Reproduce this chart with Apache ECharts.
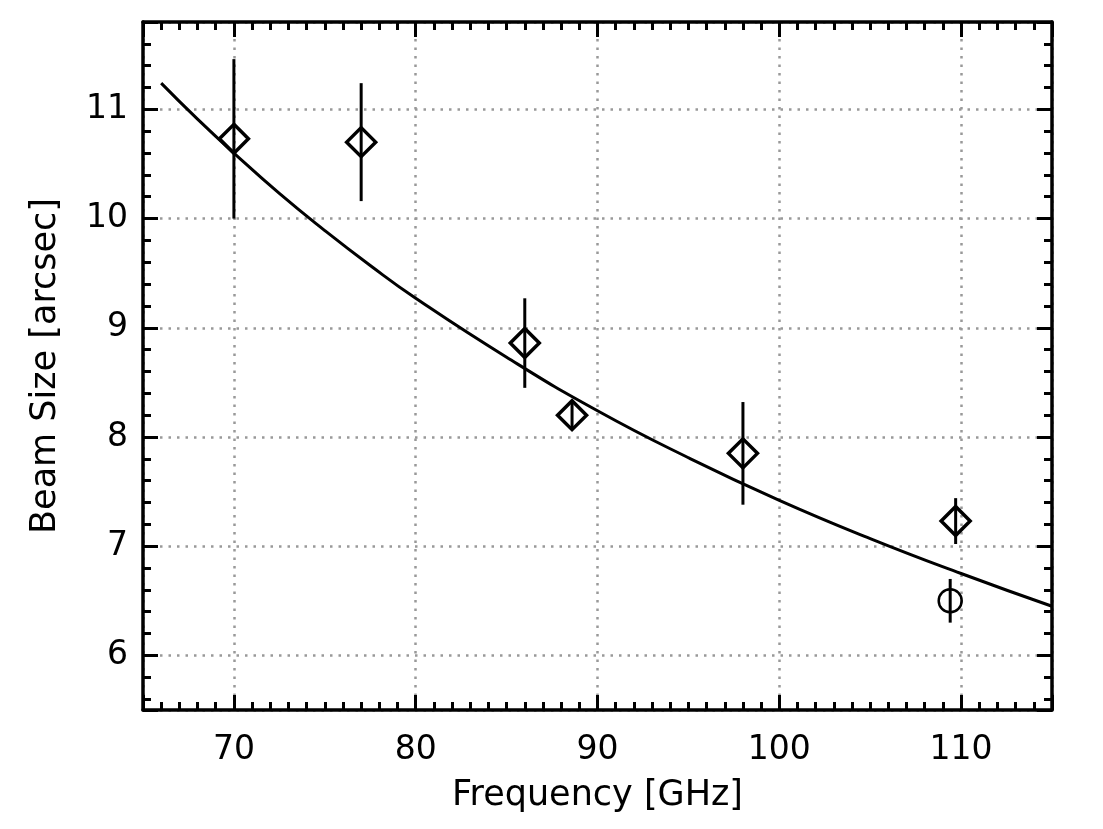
<!DOCTYPE html>
<html>
<head>
<meta charset="utf-8">
<title>Beam Size vs Frequency</title>
<script src="https://cdn.jsdelivr.net/npm/echarts@6/dist/echarts.min.js"></script>
<style>
  html, body { margin: 0; padding: 0; background: #fff; }
  #main { width: 1103px; height: 829px; }
</style>
</head>
<body>
<div id="main"></div>
<script>
// measured beam sizes (diamonds)
var freqs = [70, 77, 86, 88.6, 98, 109.7];
var beams = [10.73, 10.70, 8.86, 8.20, 7.85, 7.23];
var errs = [0.73, 0.54, 0.41, 0.12, 0.47, 0.21];

// single circle point
var circleFreq = [109.4];
var circleBeam = [6.50];
var circleErr = [0.20];

// fitted curve
var fitFreq = [66, 68, 70, 72.5, 75, 77.5, 80, 85, 90, 95, 100, 105, 110, 115];
var fitBeam = [11.24, 10.91, 10.60, 10.23, 9.89, 9.57, 9.27, 8.73, 8.24, 7.81, 7.42, 7.07, 6.75, 6.45];

var chart = echarts.init(document.getElementById('main'));

var font = 'DejaVu Sans';

function pairs(xs, ys) {
	return xs.map(function(x, i) { return [x, ys[i]]; });
}
function errData(xs, ys, es) {
	return xs.map(function(x, i) { return [x, ys[i] - es[i], ys[i] + es[i]]; });
}

function errorBar(params, api) {
	var lo = api.coord([api.value(0), api.value(1)]);
	var hi = api.coord([api.value(0), api.value(2)]);
	return {
		type: 'line',
		shape: { x1: lo[0], y1: lo[1], x2: hi[0], y2: hi[1] },
		style: { stroke: '#000', lineWidth: 3 }
	};
}

// shared axis pieces
var tickInside = { show: true, inside: true, length: 15, lineStyle: { color: '#000', width: 3 } };
var minorInside = { show: true, length: 8, lineStyle: { color: '#000', width: 3 } };
var axisLine = { show: true, onZero: false, lineStyle: { color: '#000', width: 3.5 } };
var gridDots = { show: true, lineStyle: { color: '#999', width: 2.5, type: [2.5, 6] } };

var option = {
	backgroundColor: '#fff',
	animation: false,
	grid: { left: 143, right: 51, top: 22, bottom: 119, containLabel: false },
	xAxis: [{
		type: 'value',
		min: 65,
		max: 115,
		splitNumber: 5,
		position: 'bottom',
		name: 'Frequency [GHz]',
		nameLocation: 'middle',
		nameGap: 68,
		nameTextStyle: { fontFamily: font, fontSize: 35, color: '#000' },
		axisLine: axisLine,
		axisTick: tickInside,
		minorTick: Object.assign({ splitNumber: 10 }, minorInside),
		axisLabel: { fontFamily: font, fontSize: 33, color: '#000', margin: 24, showMinLabel: false, showMaxLabel: false },
		splitLine: gridDots
	}, {
		type: 'value',
		min: 65,
		max: 115,
		splitNumber: 5,
		position: 'top',
		axisLine: axisLine,
		axisTick: tickInside,
		minorTick: Object.assign({ splitNumber: 10 }, minorInside),
		axisLabel: { show: false },
		splitLine: { show: false }
	}],
	yAxis: [{
		type: 'value',
		min: 5.5,
		max: 11.8,
		splitNumber: 6,
		position: 'left',
		name: 'Beam Size [arcsec]',
		nameLocation: 'middle',
		nameGap: 80,
		nameTextStyle: { fontFamily: font, fontSize: 35, color: '#000' },
		axisLine: axisLine,
		axisTick: tickInside,
		minorTick: Object.assign({ splitNumber: 5 }, minorInside),
		axisLabel: { fontFamily: font, fontSize: 33, color: '#000', margin: 15, showMinLabel: false, showMaxLabel: false },
		splitLine: gridDots
	}, {
		type: 'value',
		min: 5.5,
		max: 11.8,
		splitNumber: 6,
		position: 'right',
		axisLine: axisLine,
		axisTick: tickInside,
		minorTick: Object.assign({ splitNumber: 5 }, minorInside),
		axisLabel: { show: false },
		splitLine: { show: false }
	}],
	series: [{
		name: 'fit',
		type: 'line',
		smooth: true,
		showSymbol: false,
		symbol: 'none',
		clip: true,
		lineStyle: { color: '#000', width: 3 },
		data: pairs(fitFreq, fitBeam),
		z: 3
	}, {
		name: 'errors',
		type: 'custom',
		renderItem: errorBar,
		data: errData(freqs, beams, errs).concat(errData(circleFreq, circleBeam, circleErr)),
		z: 4
	}, {
		name: 'diamonds',
		type: 'scatter',
		symbol: 'diamond',
		symbolSize: 29,
		itemStyle: { color: 'rgba(0,0,0,0)', borderColor: '#000', borderWidth: 3.5, opacity: 1 },
		data: pairs(freqs, beams),
		z: 5
	}, {
		name: 'circle',
		type: 'scatter',
		symbol: 'circle',
		symbolSize: 23,
		itemStyle: { color: 'rgba(0,0,0,0)', borderColor: '#000', borderWidth: 2.5, opacity: 1 },
		data: pairs(circleFreq, circleBeam),
		z: 5
	}]
};

chart.setOption(option);
</script>
</body>
</html>
